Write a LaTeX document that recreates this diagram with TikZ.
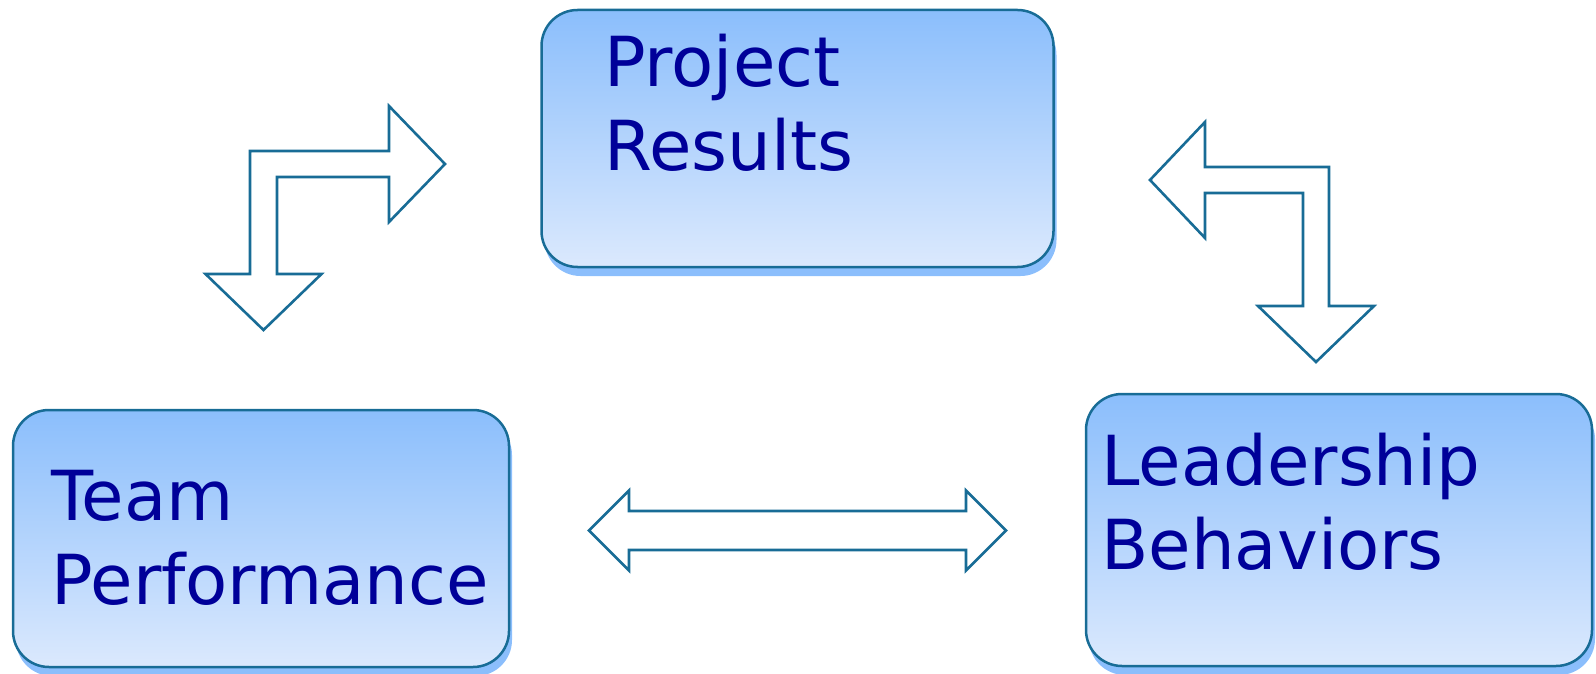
\documentclass[tikz,border=0pt]{standalone}
\usepackage{fontspec}
\setmainfont{DejaVu Sans}
\usetikzlibrary{shadows}

\definecolor{boxTop}{RGB}{139,190,252}
\definecolor{boxBottom}{RGB}{219,233,253}
\definecolor{boxEdge}{RGB}{24,108,150}
\definecolor{labelInk}{RGB}{0,0,153}

\tikzset{
  resultbox/.style={draw=boxEdge, line width=1.25pt, rounded corners=18pt,
    top color=boxTop, bottom color=boxBottom, inner sep=0pt,
    drop shadow={shadow xshift=1.5pt, shadow yshift=-4.5pt, fill=boxTop, opacity=1}},
  boxlabel/.style={anchor=base west, inner sep=0pt, align=left, text=labelInk,
    font=\fontsize{34.5}{42}\selectfont},
  blockarrow/.style={draw=boxEdge, line width=1.3pt, fill=white, line join=miter}
}

\begin{document}
\begin{tikzpicture}[x=0.5pt,y=0.5pt,yscale=-1]
\useasboundingbox (0,0) rectangle (1596,674);

% Boxes
\node[resultbox, minimum width=256pt, minimum height=128.5pt] (results) at (797.5,138.5) {};
\node[resultbox, minimum width=248pt, minimum height=128.5pt] (team) at (261,538.5) {};
\node[resultbox, minimum width=253pt, minimum height=136pt] (leader) at (1339,530) {};

% Text Node (base = last line)
\node[boxlabel] (resultstxt) at (604,170.5) {Project\\Results};
% Text Node
\node[boxlabel] (teamtxt) at (51,604) {Team\\Performance};
% Text Node
\node[boxlabel] (leadertxt) at (1101,569.5) {Leadership\\Behaviors};

%Shape: Bent Arrow, right and down
\draw[blockarrow] (250,151) -- (389,151) -- (389,106) -- (445,164) -- (389,222) -- (389,177)
  -- (277,177) -- (277,274) -- (321.5,274) -- (263.5,330) -- (205.5,274) -- (250,274) -- cycle;
%Shape: Bent Arrow, left and down
\draw[blockarrow] (1150,180) -- (1205,122) -- (1205,167) -- (1329,167) -- (1329,306) -- (1374,306)
  -- (1316,362) -- (1258,306) -- (1303,306) -- (1303,193) -- (1205,193) -- (1205,238) -- cycle;
%Shape: Double Arrow
\draw[blockarrow] (589,530.5) -- (629,490.5) -- (629,511) -- (966,511) -- (966,490.5) -- (1006,530.5)
  -- (966,570.5) -- (966,550) -- (629,550) -- (629,570.5) -- cycle;

\end{tikzpicture}
\end{document}
